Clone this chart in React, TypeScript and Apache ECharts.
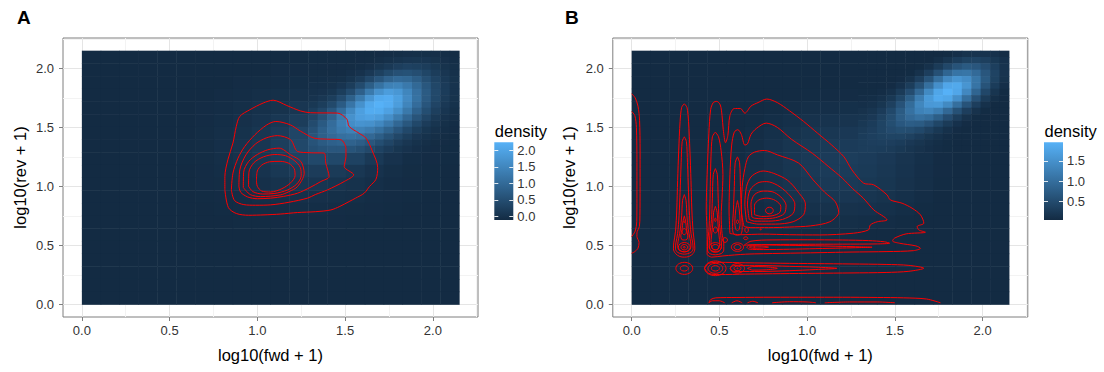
import React, { useEffect, useRef } from "react";
import * as echarts from "echarts";

const FONT = "'Liberation Sans', Arial, Helvetica, sans-serif";
const LOW = "#132B43";
const HIGH = "#56B1F7";
const RED = "#FF0000";

const AXIS_RANGE = [-0.1075, 2.2575];
const MAJOR_BREAKS = [0, 0.5, 1, 1.5, 2];
const MINOR_BREAKS = [0.25, 0.75, 1.25, 1.75, 2.25];
const X_TITLE = "log10(fwd + 1)";
const Y_TITLE = "log10(rev + 1)";
const LEGEND_TITLE = "density";
const PANEL_LABELS = ["A", "B"];

// coarse raster: 20 x 20 cells over 0..2.15; rows from top to bottom.
// null = area covered by the fine raster below.
const CELL = 0.1075;
const N = null;
const DENSITY_A = [
  [0,0,0,0,0,0,0,0,0,0,0,0,N,N,N,N,N,N,N,N],
  [0,0,0,0,0,0,0,0,0,0,0.02,0.02,N,N,N,N,N,N,N,N],
  [0,0,0,0,0,0,0,0,0.02,0.03,0.04,0.05,N,N,N,N,N,N,N,N],
  [0,0,0,0,0,0,0,0.02,0.04,0.06,0.08,0.10,N,N,N,N,N,N,N,N],
  [0,0,0,0,0,0,0.02,0.04,0.06,0.10,0.13,0.19,N,N,N,N,N,N,N,N],
  [0,0,0,0,0,0,0.02,0.05,0.09,0.14,0.20,0.30,N,N,N,N,N,N,N,N],
  [0,0,0,0,0,0,0.03,0.06,0.11,0.18,0.27,0.43,N,N,N,N,N,N,N,N],
  [0,0,0,0,0,0.01,0.03,0.07,0.12,0.19,0.31,0.48,N,N,N,N,N,N,N,N],
  [0,0,0,0,0,0.01,0.03,0.06,0.11,0.18,0.28,0.39,0.48,0.48,0.38,0.24,0.12,0.05,0.02,0.01],
  [0,0,0,0,0,0,0.02,0.05,0.09,0.14,0.21,0.26,0.29,0.26,0.20,0.12,0.06,0.03,0.01,0],
  [0,0,0,0,0,0,0.02,0.03,0.06,0.09,0.13,0.16,0.17,0.15,0.11,0.07,0.04,0.02,0.01,0],
  [0,0,0,0,0,0,0.01,0.02,0.04,0.06,0.08,0.09,0.09,0.08,0.06,0.04,0.02,0.01,0,0],
  [0,0,0,0,0,0,0,0.01,0.02,0.03,0.04,0.05,0.05,0.04,0.03,0.02,0.01,0,0,0],
  [0,0,0,0,0,0,0,0,0.01,0.01,0.02,0.02,0.02,0.02,0.01,0.01,0,0,0,0],
  [0,0,0,0,0,0,0,0,0,0,0,0,0,0,0,0,0,0,0,0],
  [0,0,0,0,0,0,0,0,0,0,0,0,0,0,0,0,0,0,0,0],
  [0,0,0,0,0,0,0,0,0,0,0,0,0,0,0,0,0,0,0,0],
  [0,0,0,0,0,0,0,0,0,0,0,0,0,0,0,0,0,0,0,0],
  [0,0,0,0,0,0,0,0,0,0,0,0,0,0,0,0,0,0,0,0],
  [0,0,0,0,0,0,0,0,0,0,0,0,0,0,0,0,0,0,0,0],
];
const DENSITY_B = [
  [0,0,0,0,0,0,0,0,0,0,0,0,N,N,N,N,N,N,N,N],
  [0,0,0,0,0,0,0,0.01,0.02,0.02,0.02,0.02,N,N,N,N,N,N,N,N],
  [0,0,0,0,0,0,0.02,0.03,0.03,0.04,0.05,0.05,N,N,N,N,N,N,N,N],
  [0,0,0,0,0,0.02,0.03,0.04,0.06,0.07,0.08,0.08,N,N,N,N,N,N,N,N],
  [0,0,0,0,0.02,0.03,0.05,0.07,0.09,0.11,0.12,0.13,N,N,N,N,N,N,N,N],
  [0,0,0,0.01,0.02,0.04,0.07,0.10,0.13,0.16,0.18,0.19,N,N,N,N,N,N,N,N],
  [0,0,0.01,0.02,0.03,0.05,0.09,0.13,0.17,0.21,0.23,0.25,N,N,N,N,N,N,N,N],
  [0,0,0.01,0.02,0.04,0.06,0.10,0.15,0.20,0.24,0.27,0.29,N,N,N,N,N,N,N,N],
  [0,0,0.01,0.02,0.04,0.07,0.11,0.16,0.22,0.26,0.29,0.31,0.29,0.25,0.19,0.13,0.08,0.05,0.02,0.01],
  [0,0,0.01,0.02,0.04,0.07,0.11,0.16,0.21,0.26,0.29,0.29,0.27,0.23,0.18,0.12,0.08,0.05,0.02,0.01],
  [0,0,0.01,0.02,0.03,0.06,0.10,0.14,0.19,0.23,0.26,0.26,0.24,0.21,0.16,0.11,0.07,0.04,0.02,0.01],
  [0,0,0.01,0.01,0.03,0.05,0.08,0.12,0.16,0.19,0.21,0.22,0.20,0.17,0.13,0.09,0.06,0.03,0.02,0.01],
  [0,0,0,0.01,0.02,0.04,0.06,0.09,0.12,0.14,0.16,0.16,0.15,0.13,0.10,0.07,0.04,0.03,0.01,0.01],
  [0,0,0,0.01,0.01,0.03,0.04,0.06,0.08,0.10,0.11,0.11,0.10,0.09,0.07,0.05,0.03,0.02,0.01,0],
  [0,0,0,0,0.01,0.02,0.02,0.04,0.05,0.06,0.07,0.07,0.06,0.05,0.04,0.03,0.02,0.01,0,0],
  [0,0,0,0,0,0.01,0.01,0.02,0.03,0.03,0.04,0.04,0.04,0.03,0.02,0.02,0.01,0,0,0],
  [0,0,0,0,0,0,0,0.01,0.01,0.02,0.02,0.02,0.02,0.02,0.01,0,0,0,0,0],
  [0,0,0,0,0,0,0,0,0,0,0,0,0,0,0,0,0,0,0,0],
  [0,0,0,0,0,0,0,0,0,0,0,0,0,0,0,0,0,0,0,0],
  [0,0,0,0,0,0,0,0,0,0,0,0,0,0,0,0,0,0,0,0],
];

// fine raster: 16 x 16 cells over 1.29..2.15 (the bright blob); rows from top to bottom
const FINE_CELL = 0.05375;
const FINE_ORIGIN = 1.29;
const FINE_A = [
  [0.01,0.01,0.01,0.01,0.01,0.01,0.01,0.02,0.04,0.05,0.07,0.08,0.08,0.07,0.05,0.03],
  [0.01,0.01,0.01,0.01,0.01,0.02,0.03,0.06,0.10,0.14,0.17,0.18,0.17,0.13,0.09,0.05],
  [0.02,0.02,0.02,0.02,0.03,0.05,0.09,0.16,0.24,0.32,0.37,0.35,0.30,0.21,0.13,0.08],
  [0.03,0.03,0.03,0.04,0.07,0.12,0.22,0.36,0.51,0.62,0.65,0.59,0.45,0.30,0.19,0.10],
  [0.04,0.05,0.06,0.08,0.15,0.27,0.47,0.71,0.92,1.04,1.00,0.83,0.60,0.40,0.24,0.13],
  [0.07,0.07,0.10,0.17,0.30,0.53,0.85,1.18,1.43,1.48,1.31,1.03,0.73,0.46,0.27,0.14],
  [0.10,0.12,0.18,0.31,0.54,0.89,1.32,1.71,1.90,1.81,1.52,1.16,0.80,0.50,0.28,0.14],
  [0.14,0.20,0.31,0.53,0.88,1.32,1.78,2.11,2.16,1.95,1.59,1.18,0.79,0.48,0.26,0.13],
  [0.21,0.31,0.50,0.81,1.24,1.71,2.09,2.25,2.16,1.90,1.51,1.09,0.71,0.42,0.22,0.11],
  [0.31,0.46,0.73,1.11,1.55,1.94,2.15,2.15,1.98,1.68,1.30,0.91,0.58,0.33,0.17,0.08],
  [0.42,0.63,0.94,1.33,1.70,1.93,1.99,1.90,1.67,1.35,1.01,0.69,0.43,0.24,0.12,0.06],
  [0.54,0.78,1.09,1.41,1.64,1.74,1.71,1.55,1.31,1.01,0.73,0.48,0.29,0.16,0.08,0.04],
  [0.64,0.88,1.13,1.33,1.44,1.45,1.36,1.18,0.95,0.71,0.48,0.31,0.18,0.10,0.05,0.02],
  [0.69,0.88,1.04,1.14,1.18,1.14,1.02,0.85,0.65,0.46,0.31,0.19,0.11,0.06,0.03,0.01],
  [0.67,0.80,0.89,0.93,0.92,0.84,0.72,0.58,0.43,0.29,0.19,0.11,0.06,0.03,0.02,0.01],
  [0.61,0.67,0.72,0.72,0.68,0.60,0.49,0.38,0.27,0.18,0.12,0.07,0.04,0.02,0.01,0.01],
];
const FINE_B = [
  [0.01,0.01,0.01,0.01,0.01,0.01,0.01,0.01,0.03,0.07,0.12,0.17,0.19,0.18,0.15,0.09],
  [0.01,0.01,0.01,0.01,0.01,0.01,0.02,0.05,0.11,0.20,0.30,0.38,0.40,0.34,0.24,0.15],
  [0.02,0.02,0.02,0.02,0.02,0.03,0.07,0.14,0.28,0.46,0.63,0.72,0.67,0.53,0.34,0.18],
  [0.03,0.03,0.03,0.03,0.04,0.07,0.16,0.33,0.59,0.88,1.09,1.12,0.96,0.67,0.40,0.19],
  [0.04,0.04,0.04,0.05,0.08,0.16,0.33,0.63,1.02,1.38,1.56,1.45,1.12,0.72,0.38,0.17],
  [0.05,0.05,0.06,0.08,0.15,0.31,0.60,1.02,1.48,1.81,1.84,1.56,1.09,0.63,0.30,0.12],
  [0.07,0.07,0.09,0.14,0.28,0.53,0.93,1.40,1.80,1.96,1.81,1.38,0.88,0.46,0.20,0.07],
  [0.09,0.10,0.14,0.24,0.44,0.78,1.22,1.63,1.86,1.80,1.48,1.02,0.59,0.28,0.11,0.04],
  [0.12,0.14,0.21,0.36,0.62,0.98,1.36,1.61,1.63,1.40,1.02,0.63,0.33,0.14,0.05,0.02],
  [0.16,0.20,0.29,0.47,0.74,1.05,1.29,1.36,1.22,0.93,0.60,0.33,0.16,0.07,0.02,0.01],
  [0.20,0.25,0.37,0.54,0.77,0.96,1.05,0.98,0.78,0.53,0.31,0.16,0.07,0.03,0.01,0.01],
  [0.24,0.30,0.41,0.55,0.69,0.77,0.74,0.62,0.44,0.28,0.15,0.08,0.04,0.02,0.01,0.01],
  [0.28,0.33,0.41,0.50,0.55,0.54,0.47,0.36,0.24,0.14,0.08,0.05,0.03,0.02,0.01,0.01],
  [0.30,0.34,0.38,0.41,0.41,0.37,0.29,0.21,0.14,0.09,0.06,0.04,0.02,0.02,0.01,0.01],
  [0.31,0.33,0.34,0.33,0.30,0.25,0.20,0.14,0.10,0.07,0.05,0.04,0.03,0.02,0.01,0.01],
  [0.31,0.31,0.30,0.28,0.24,0.20,0.16,0.12,0.09,0.07,0.05,0.04,0.03,0.02,0.01,0.01],
];

const COLOR_RANGE_A = [0, 2.24];
const COLOR_RANGE_B = [0.06, 1.96];
const LEGEND_BAR_A = [-0.115, 2.24]; // value at bar bottom / top
const LEGEND_BAR_B = [0.04, 1.96];
const LEGEND_BREAKS_A = [0, 0.5, 1, 1.5, 2];
const LEGEND_BREAKS_B = [0.5, 1, 1.5];

// ---- panel A contours (fwd, rev) ----
const A_LEVEL_1 = [[0.815,0.97],[0.815,1.083],[0.832,1.225],[0.861,1.367],[0.88,1.508],[0.9,1.593],[0.957,1.649],[1.033,1.706],[1.09,1.73],[1.168,1.685],[1.244,1.64],[1.302,1.624],[1.457,1.621],[1.51,1.57],[1.523,1.508],[1.58,1.45],[1.619,1.409],[1.655,1.3],[1.686,1.16],[1.676,1.06],[1.64,1.0],[1.609,0.942],[1.56,0.9],[1.523,0.871],[1.47,0.83],[1.419,0.8],[1.33,0.785],[1.229,0.778],[1.13,0.765],[1.038,0.758],[0.95,0.755],[0.88,0.77],[0.835,0.82],[0.815,0.97]];
const A_LEVEL_2 = [[0.852,0.97],[0.861,1.112],[0.89,1.239],[0.928,1.338],[0.986,1.437],[1.053,1.52],[1.105,1.55],[1.187,1.522],[1.244,1.47],[1.323,1.409],[1.4,1.4],[1.476,1.395],[1.505,1.32],[1.505,1.253],[1.495,1.168],[1.549,1.098],[1.495,1.041],[1.4,0.97],[1.33,0.93],[1.286,0.9],[1.18,0.865],[1.076,0.843],[0.99,0.84],[0.923,0.845],[0.87,0.88],[0.852,0.97]];
const A_LEVEL_3 = [[0.895,1.0],[0.9,1.14],[0.935,1.267],[0.99,1.36],[1.05,1.41],[1.114,1.43],[1.19,1.395],[1.229,1.296],[1.3,1.285],[1.381,1.282],[1.39,1.197],[1.409,1.083],[1.362,1.041],[1.3,0.99],[1.229,0.942],[1.15,0.915],[1.076,0.9],[1.0,0.895],[0.945,0.91],[0.905,0.95],[0.895,1.0]];
const A_LEVEL_4 = [[0.92,0.99],[0.922,1.12],[0.95,1.21],[1.0,1.27],[1.06,1.31],[1.124,1.324],[1.19,1.267],[1.248,1.211],[1.267,1.112],[1.229,0.998],[1.18,0.955],[1.133,0.928],[1.019,0.913],[0.96,0.93],[0.92,0.99]];
const A_LEVEL_5 = [[0.95,1.0],[0.952,1.12],[0.98,1.2],[1.035,1.25],[1.1,1.27],[1.16,1.26],[1.21,1.22],[1.245,1.16],[1.25,1.09],[1.225,1.02],[1.17,0.968],[1.1,0.94],[1.03,0.935],[0.975,0.955],[0.95,1.0]];
const A_LEVEL_6 = [[0.995,1.05],[1.0,1.13],[1.025,1.18],[1.07,1.208],[1.13,1.212],[1.18,1.195],[1.21,1.15],[1.215,1.09],[1.19,1.03],[1.14,0.98],[1.075,0.952],[1.025,0.96],[1.0,1.0],[0.995,1.05]];
const A_CONTOURS = [A_LEVEL_1, A_LEVEL_2, A_LEVEL_3, A_LEVEL_4, A_LEVEL_5, A_LEVEL_6];

// ---- panel B contours ----
const B_EDGE_OUTER = [[0,1.785],[0.02,1.75],[0.036,1.68],[0.045,1.56],[0.048,1.3],[0.048,1.0],[0.047,0.75],[0.044,0.66],[0.03,0.605],[0.03,0.575],[0.042,0.525],[0.036,0.475],[0.016,0.445],[0,0.433]];
const B_EDGE_INNER = [[0,1.635],[0.018,1.6],[0.027,1.5],[0.03,1.2],[0.03,0.9],[0.029,0.7],[0.02,0.62],[0,0.574]];
const B_COL30_1 = [[0.3,1.7],[0.285,1.67],[0.276,1.55],[0.268,1.3],[0.262,1.05],[0.257,0.8],[0.25,0.62],[0.24,0.52],[0.238,0.47],[0.25,0.43],[0.275,0.405],[0.3,0.4],[0.325,0.405],[0.35,0.43],[0.36,0.47],[0.358,0.52],[0.35,0.62],[0.343,0.8],[0.338,1.05],[0.332,1.3],[0.324,1.55],[0.315,1.67],[0.3,1.7]];
const B_COL30_2 = [[0.3,1.42],[0.288,1.38],[0.282,1.2],[0.276,0.95],[0.27,0.75],[0.262,0.6],[0.252,0.52],[0.25,0.47],[0.262,0.44],[0.3,0.425],[0.338,0.44],[0.35,0.47],[0.348,0.52],[0.338,0.6],[0.33,0.75],[0.324,0.95],[0.318,1.2],[0.312,1.38],[0.3,1.42]];
const B_COL30_3 = [[0.3,0.93],[0.29,0.88],[0.285,0.75],[0.278,0.64],[0.268,0.56],[0.262,0.5],[0.27,0.46],[0.3,0.445],[0.33,0.46],[0.338,0.5],[0.332,0.56],[0.322,0.64],[0.315,0.75],[0.31,0.88],[0.3,0.93]];
const B_COL30_4 = [[0.3,0.75],[0.292,0.7],[0.288,0.64],[0.28,0.58],[0.285,0.55],[0.3,0.545],[0.315,0.55],[0.32,0.58],[0.312,0.64],[0.308,0.7],[0.3,0.75]];
const B_OUTER = [[0.43,0.42],[0.43,0.6],[0.425,0.8],[0.43,1.1],[0.44,1.45],[0.45,1.65],[0.465,1.71],[0.485,1.72],[0.505,1.69],[0.515,1.6],[0.522,1.48],[0.535,1.37],[0.548,1.43],[0.56,1.6],[0.585,1.66],[0.62,1.66],[0.645,1.62],[0.68,1.68],[0.72,1.71],[0.77,1.74],[0.83,1.71],[0.9,1.64],[0.98,1.55],[1.06,1.45],[1.14,1.35],[1.21,1.25],[1.255,1.14],[1.322,1.027],[1.379,1.013],[1.455,0.928],[1.474,0.885],[1.541,0.857],[1.598,0.815],[1.646,0.758],[1.665,0.688],[1.627,0.659],[1.636,0.631],[1.674,0.611],[1.564,0.597],[1.497,0.56],[1.487,0.537],[1.526,0.518],[1.62,0.495],[1.646,0.475],[1.607,0.455],[1.455,0.447],[1.25,0.443],[1.074,0.438],[0.85,0.432],[0.65,0.425],[0.52,0.41],[0.455,0.4],[0.43,0.42]];
const B_COL48_2 = [[0.477,1.46],[0.46,1.42],[0.452,1.25],[0.448,1.0],[0.445,0.8],[0.44,0.62],[0.432,0.52],[0.432,0.46],[0.445,0.43],[0.477,0.42],[0.51,0.43],[0.525,0.46],[0.525,0.52],[0.515,0.6],[0.51,0.75],[0.515,0.9],[0.52,1.1],[0.51,1.3],[0.495,1.42],[0.477,1.46]];
const B_COL48_3 = [[0.477,1.15],[0.465,1.1],[0.46,0.9],[0.455,0.72],[0.445,0.58],[0.442,0.5],[0.452,0.455],[0.477,0.44],[0.502,0.455],[0.512,0.5],[0.508,0.58],[0.498,0.72],[0.493,0.9],[0.488,1.1],[0.477,1.15]];
const B_COL48_4 = [[0.477,0.83],[0.467,0.78],[0.462,0.68],[0.455,0.58],[0.452,0.52],[0.46,0.47],[0.477,0.46],[0.494,0.47],[0.502,0.52],[0.498,0.58],[0.492,0.68],[0.487,0.78],[0.477,0.83]];
const B_COL60_1 = [[0.603,1.25],[0.59,1.2],[0.585,1.0],[0.58,0.8],[0.575,0.66],[0.58,0.6],[0.603,0.585],[0.625,0.6],[0.63,0.66],[0.625,0.8],[0.62,1.0],[0.615,1.2],[0.603,1.25]];
const B_COL60_2 = [[0.603,0.88],[0.593,0.8],[0.588,0.7],[0.592,0.64],[0.603,0.625],[0.614,0.64],[0.618,0.7],[0.613,0.8],[0.603,0.88]];
const B_MAIN_2 = [[0.56,0.6],[0.555,0.8],[0.56,1.1],[0.57,1.35],[0.585,1.46],[0.605,1.48],[0.625,1.44],[0.645,1.35],[0.66,1.36],[0.68,1.44],[0.71,1.49],[0.767,1.536],[0.83,1.5],[0.91,1.4],[1.03,1.28],[1.12,1.17],[1.2,1.07],[1.26,0.98],[1.32,0.9],[1.38,0.8],[1.455,0.716],[1.4,0.7],[1.36,0.673],[1.35,0.631],[1.265,0.603],[1.07,0.588],[0.9,0.59],[0.75,0.595],[0.62,0.59],[0.56,0.6]];
const B_MAIN_3 = [[0.64,0.66],[0.625,0.8],[0.63,1.0],[0.645,1.15],[0.665,1.25],[0.7,1.29],[0.757,1.304],[0.83,1.267],[0.952,1.197],[1.034,1.055],[1.1,0.95],[1.16,0.87],[1.18,0.78],[1.13,0.7],[1.02,0.665],[0.9,0.655],[0.78,0.65],[0.68,0.65],[0.64,0.66]];
const B_MAIN_4 = [[0.655,0.7],[0.645,0.85],[0.655,1.0],[0.68,1.08],[0.72,1.12],[0.75,1.13],[0.81,1.11],[0.89,1.05],[0.95,0.95],[0.99,0.85],[0.98,0.76],[0.92,0.7],[0.82,0.68],[0.72,0.68],[0.655,0.7]];
const B_MAIN_5 = [[0.67,0.72],[0.66,0.85],[0.675,0.97],[0.72,1.03],[0.77,1.04],[0.83,1.01],[0.89,0.94],[0.93,0.85],[0.92,0.77],[0.86,0.72],[0.78,0.705],[0.7,0.705],[0.67,0.72]];
const B_MAIN_6 = [[0.685,0.74],[0.68,0.85],[0.7,0.93],[0.75,0.96],[0.8,0.955],[0.85,0.91],[0.88,0.84],[0.87,0.77],[0.82,0.735],[0.75,0.725],[0.7,0.73],[0.685,0.74]];
const B_MAIN_7 = [[0.7,0.76],[0.7,0.84],[0.725,0.885],[0.77,0.9],[0.82,0.88],[0.85,0.83],[0.845,0.78],[0.8,0.75],[0.74,0.745],[0.7,0.76]];
const B_STRIP48_1 = [[0.64,0.5],[0.68,0.535],[0.8,0.546],[1.0,0.547],[1.2,0.545],[1.35,0.54],[1.44,0.53],[1.47,0.518],[1.4,0.512],[1.2,0.51],[1.0,0.509],[0.8,0.507],[0.68,0.505],[0.64,0.5]];
const B_STRIP48_2 = [[0.655,0.485],[0.67,0.5],[0.75,0.503],[0.9,0.5],[1.05,0.496],[1.2,0.491],[1.3,0.487],[1.37,0.484],[1.3,0.481],[1.2,0.477],[1.05,0.472],[0.9,0.467],[0.75,0.464],[0.67,0.468],[0.655,0.485]];
const B_STRIP48_3 = [[0.67,0.485],[0.69,0.494],[0.74,0.493],[0.78,0.485],[0.74,0.477],[0.69,0.476],[0.67,0.485]];
const B_STRIP30_1 = [[0.415,0.305],[0.44,0.262],[0.5,0.252],[0.65,0.256],[0.85,0.26],[1.05,0.263],[1.25,0.266],[1.45,0.27],[1.58,0.28],[1.665,0.306],[1.58,0.33],[1.45,0.338],[1.25,0.342],[1.05,0.345],[0.85,0.348],[0.65,0.352],[0.5,0.356],[0.44,0.348],[0.415,0.305]];
const B_STRIP30_2 = [[0.56,0.305],[0.58,0.28],[0.7,0.278],[0.9,0.285],[1.05,0.295],[1.17,0.305],[1.05,0.315],[0.9,0.322],[0.7,0.33],[0.58,0.33],[0.56,0.305]];
const B_STRIP30_3 = [[0.66,0.305],[0.69,0.29],[0.76,0.292],[0.83,0.305],[0.76,0.318],[0.69,0.32],[0.66,0.305]];
const B_BASE_1 = [[0.44,0.013],[0.45,0.04],[0.48,0.055],[0.6,0.058],[0.8,0.06],[1.0,0.06],[1.2,0.06],[1.4,0.058],[1.55,0.055],[1.68,0.045],[1.76,0.013]];
const B_BASE_2 = [[0.44,0.013],[0.46,0.03],[0.5,0.03],[0.53,0.013]];
const B_BASE_3 = [[0.57,0.013],[0.6,0.03],[0.63,0.013]];
const B_BASE_4 = [[0.66,0.013],[0.69,0.026],[0.72,0.013]];
const B_BASE_5 = [[0.8,0.013],[0.9,0.022],[1.0,0.02],[1.05,0.013]];
const B_BASE_6 = [[1.1,0.013],[1.25,0.02],[1.4,0.02],[1.5,0.013]];
const B_CONTOURS = [B_EDGE_OUTER, B_EDGE_INNER, B_COL30_1, B_COL30_2, B_COL30_3, B_COL30_4, B_OUTER, B_COL48_2, B_COL48_3, B_COL48_4, B_COL60_1, B_COL60_2, B_MAIN_2, B_MAIN_3, B_MAIN_4, B_MAIN_5, B_MAIN_6, B_MAIN_7, B_STRIP48_1, B_STRIP48_2, B_STRIP48_3, B_STRIP30_1, B_STRIP30_2, B_STRIP30_3, B_BASE_1, B_BASE_2, B_BASE_3, B_BASE_4, B_BASE_5, B_BASE_6];

// small closed contours: [centre fwd, centre rev, half-width, half-height]
const B_RINGS = [
  [0.3,0.7,0.004,0.007],[0.3,0.616,0.012,0.026],[0.3,0.484,0.006,0.006],[0.3,0.484,0.019,0.023],[0.3,0.484,0.034,0.04],
  [0.3,0.305,0.023,0.023],[0.3,0.305,0.048,0.051],
  [0.477,0.716,0.004,0.015],[0.477,0.63,0.012,0.025],[0.477,0.485,0.02,0.022],[0.477,0.485,0.035,0.038],
  [0.477,0.305,0.023,0.023],[0.477,0.305,0.042,0.042],[0.477,0.305,0.061,0.062],
  [0.532,0.545,0.014,0.02],
  [0.603,0.7,0.006,0.015],[0.603,0.485,0.02,0.022],[0.603,0.485,0.035,0.036],
  [0.603,0.305,0.003,0.004],[0.603,0.305,0.02,0.02],[0.603,0.305,0.04,0.04],
  [0.65,0.56,0.012,0.012],[0.655,0.63,0.01,0.022],[0.699,0.485,0.004,0.004],[0.735,0.635,0.004,0.004],
  [0.785,0.795,0.022,0.028],
];

// ---- layout (pixels) ----
const GRID_LEFT = [63, 612.8];
const GRID_TOP = 38;
const GRID_W = 415;
const GRID_H = 279;
const LEGEND_X = [494.3, 1044];
const LEGEND_BAR_TOP = 142.2;
const LEGEND_BAR_H = 77.8;
const LEGEND_BAR_W = 19;

function toCells(rows: (number | null)[][], cell: number, origin: number) {
  const out: number[][] = [];
  const n = rows.length;
  rows.forEach((row, r) => {
    const j = n - 1 - r;
    row.forEach((v, i) => {
      if (v === null) return;
      out.push([origin + (i + 0.5) * cell, origin + (j + 0.5) * cell, v, cell]);
    });
  });
  return out;
}

function axes(gridIndex: number, isX: boolean) {
  const major: any = {
    type: "value", gridIndex, min: AXIS_RANGE[0], max: AXIS_RANGE[1],
    name: isX ? X_TITLE : Y_TITLE, nameLocation: "middle", nameGap: isX ? 29 : 35,
    nameTextStyle: { fontSize: 16.5, color: "#000", fontFamily: FONT },
    axisLine: { show: false, onZero: false },
    axisTick: { show: true, inside: false, length: 4, customValues: MAJOR_BREAKS, lineStyle: { color: "#7F7F7F", width: 1 } },
    axisLabel: { show: true, customValues: MAJOR_BREAKS, formatter: (v: number) => v.toFixed(1), fontSize: 13, color: "#333", fontFamily: FONT, margin: isX ? 7 : 9 },
    splitLine: { show: true, lineStyle: { color: "#E5E5E5", width: 1 } },
  };
  const minor: any = {
    type: "value", gridIndex, min: AXIS_RANGE[0], max: AXIS_RANGE[1],
    axisLine: { show: false, onZero: false },
    axisTick: { show: false, customValues: MINOR_BREAKS },
    axisLabel: { show: false, customValues: MINOR_BREAKS },
    splitLine: { show: true, lineStyle: { color: "#F3F3F3", width: 1 } },
  };
  return [major, minor];
}

function heatSeries(coarse: (number | null)[][], fine: number[][], axisIndex: number) {
  return {
    type: "custom", xAxisIndex: axisIndex, yAxisIndex: axisIndex, silent: true, z: 1,
    dimensions: ["fwd", "rev", "density", "cell"], encode: { x: 0, y: 1 },
    data: [...toCells(coarse, CELL, 0), ...toCells(fine, FINE_CELL, FINE_ORIGIN)],
    renderItem: (_p: any, api: any) => {
      const x = api.value(0), y = api.value(1), h = api.value(3) / 2;
      const a = api.coord([x - h, y + h]);
      const b = api.coord([x + h, y - h]);
      return { type: "rect", shape: { x: a[0], y: a[1], width: b[0] - a[0] + 0.5, height: b[1] - a[1] + 0.5 }, style: { fill: api.visual("color") } };
    },
  };
}

function contourSeries(lines: number[][][], axisIndex: number) {
  return lines.map((pts) => ({
    type: "line", xAxisIndex: axisIndex, yAxisIndex: axisIndex, silent: true, z: 3,
    data: pts, showSymbol: false, symbol: "none", smooth: 0.3,
    lineStyle: { color: RED, width: 1 },
  }));
}

function ringSeries(rings: number[][], axisIndex: number) {
  return {
    type: "custom", xAxisIndex: axisIndex, yAxisIndex: axisIndex, silent: true, z: 3,
    dimensions: ["fwd", "rev", "rx", "ry"], encode: { x: 0, y: 1 },
    data: rings,
    renderItem: (_p: any, api: any) => {
      const c = api.coord([api.value(0), api.value(1)]);
      const s = api.size([api.value(2), api.value(3)]);
      return { type: "ellipse", shape: { cx: c[0], cy: c[1], rx: Math.abs(s[0]), ry: Math.abs(s[1]) }, style: { fill: "none", stroke: RED, lineWidth: 1 } };
    },
  };
}

function legendGraphics(k: number, barRange: number[], breaks: number[]) {
  const x = LEGEND_X[k];
  const yOf = (v: number) => LEGEND_BAR_TOP + LEGEND_BAR_H - ((v - barRange[0]) / (barRange[1] - barRange[0])) * LEGEND_BAR_H;
  const els: any[] = [
    { type: "text", x: x + 0.5, y: 131, style: { text: LEGEND_TITLE, fontSize: 16.5, fontFamily: FONT, fill: "#000", verticalAlign: "middle" } },
    { type: "rect", shape: { x, y: LEGEND_BAR_TOP, width: LEGEND_BAR_W, height: LEGEND_BAR_H },
      style: { fill: new echarts.graphic.LinearGradient(0, 0, 0, 1, [{ offset: 0, color: HIGH }, { offset: 1, color: LOW }]) } },
  ];
  breaks.forEach((v) => {
    const y = Math.round(yOf(v)) + 0.5;
    els.push({ type: "line", shape: { x1: x, y1: y, x2: x + 4, y2: y }, style: { stroke: "rgba(255,255,255,0.85)", lineWidth: 1 } });
    els.push({ type: "line", shape: { x1: x + LEGEND_BAR_W - 4, y1: y, x2: x + LEGEND_BAR_W, y2: y }, style: { stroke: "rgba(255,255,255,0.85)", lineWidth: 1 } });
    els.push({ type: "text", x: x + LEGEND_BAR_W + 4, y: yOf(v), style: { text: v.toFixed(1), fontSize: 13, fontFamily: FONT, fill: "#333", verticalAlign: "middle" } });
  });
  return els;
}

export default function App() {
  const ref = useRef<HTMLDivElement>(null);
  useEffect(() => {
    if (!ref.current) return;
    const chart = echarts.init(ref.current, null, { renderer: "svg" });
    const [xA, xAm] = axes(0, true);
    const [xB, xBm] = axes(1, true);
    const [yA, yAm] = axes(0, false);
    const [yB, yBm] = axes(1, false);
    const series: any[] = [
      heatSeries(DENSITY_A, FINE_A, 0),
      heatSeries(DENSITY_B, FINE_B, 2),
      ...contourSeries(A_CONTOURS, 0),
      ...contourSeries(B_CONTOURS, 2),
      ringSeries(B_RINGS, 2),
    ];
    chart.setOption({
      animation: false,
      backgroundColor: "#fff",
      textStyle: { fontFamily: FONT },
      grid: GRID_LEFT.map((left) => ({ left, top: GRID_TOP, width: GRID_W, height: GRID_H, show: true, borderColor: "#7F7F7F", borderWidth: 1, backgroundColor: "transparent", containLabel: false })),
      xAxis: [xA, xAm, xB, xBm],
      yAxis: [yA, yAm, yB, yBm],
      visualMap: [
        { type: "continuous", show: false, seriesIndex: 0, dimension: 2, min: COLOR_RANGE_A[0], max: COLOR_RANGE_A[1], inRange: { color: [LOW, HIGH] } },
        { type: "continuous", show: false, seriesIndex: 1, dimension: 2, min: COLOR_RANGE_B[0], max: COLOR_RANGE_B[1], inRange: { color: [LOW, HIGH] } },
      ],
      graphic: [
        { type: "text", x: 17, y: 8, style: { text: PANEL_LABELS[0], fontSize: 19, fontWeight: "bold", fontFamily: FONT, fill: "#000" } },
        { type: "text", x: 565, y: 8, style: { text: PANEL_LABELS[1], fontSize: 19, fontWeight: "bold", fontFamily: FONT, fill: "#000" } },
        ...legendGraphics(0, LEGEND_BAR_A, LEGEND_BREAKS_A),
        ...legendGraphics(1, LEGEND_BAR_B, LEGEND_BREAKS_B),
      ],
      series,
    });
    return () => chart.dispose();
  }, []);
  return <div ref={ref} style={{ position: "fixed", left: 0, top: 0, width: 1104, height: 372, background: "#fff" }} />;
}
